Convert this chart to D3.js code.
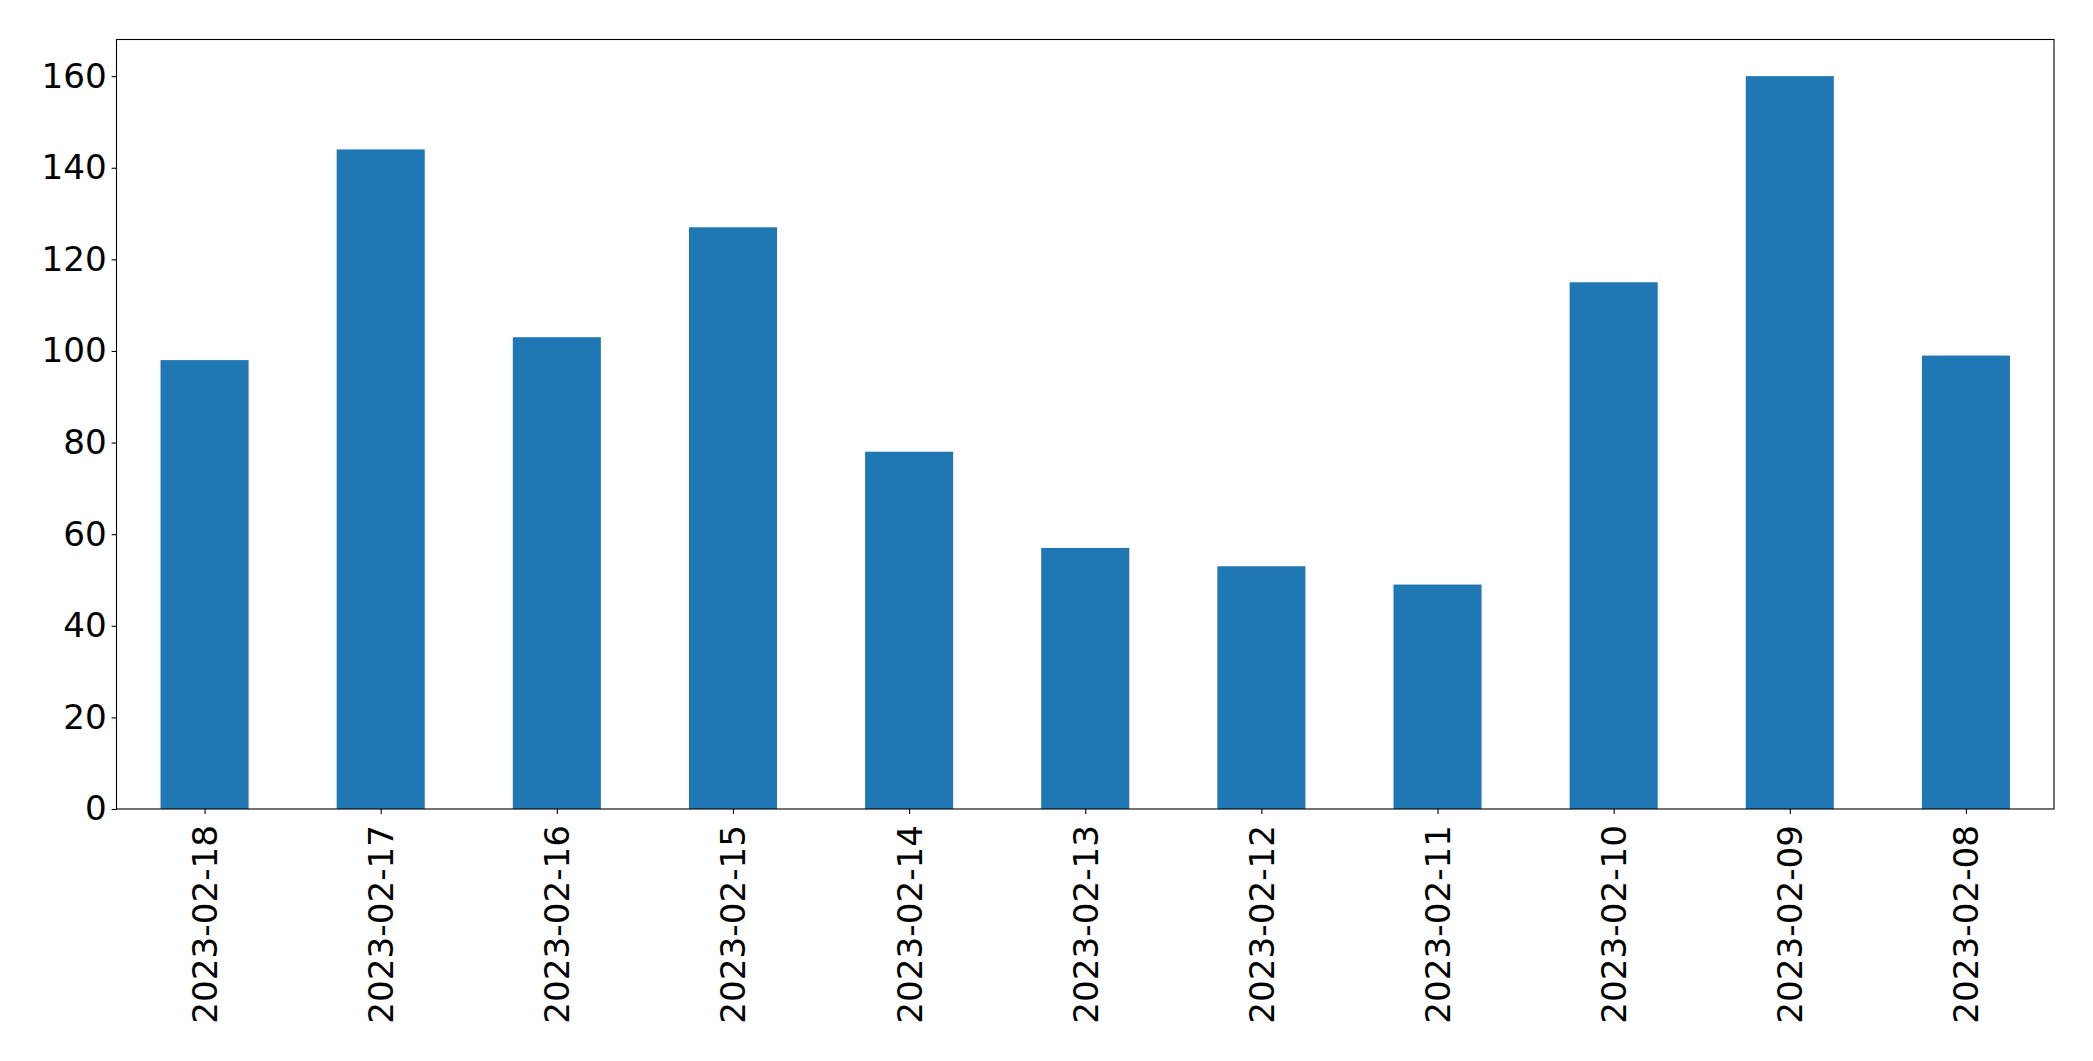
<!DOCTYPE html>
<html>
<head>
<meta charset="utf-8">
<script src="https://cdn.jsdelivr.net/npm/d3@7"></script>
<style>
  body { margin: 0; background: #fff; }
  text { font-family: "DejaVu Sans", sans-serif; fill: #000; }
</style>
</head>
<body>
<div id="chart"></div>
<script>
// Data
var dates = ["2023-02-18", "2023-02-17", "2023-02-16", "2023-02-15", "2023-02-14",
             "2023-02-13", "2023-02-12", "2023-02-11", "2023-02-10", "2023-02-09", "2023-02-08"];
var counts = [98, 144, 103, 127, 78, 57, 53, 49, 115, 160, 99];
var yTicks = [0, 20, 40, 60, 80, 100, 120, 140, 160];

var width = 2093, height = 1061;
var margin = { top: 39.5, right: 39, bottom: 252, left: 116.5 };
var plotW = width - margin.left - margin.right;
var plotH = height - margin.top - margin.bottom;
var fontSize = 34.2;

var svg = d3.select("#chart")
    .append("svg")
    .attr("width", width)
    .attr("height", height);

var g = svg.append("g")
    .attr("transform", "translate(" + margin.left + "," + margin.top + ")");

// Linear x over category index, like matplotlib's (-0.5, n-0.5)
var x = d3.scaleLinear()
    .domain([-0.5, dates.length - 0.5])
    .range([0, plotW]);

var y = d3.scaleLinear()
    .domain([0, d3.max(counts) * 1.05])
    .range([plotH, 0]);

// Bars
g.selectAll(".bar")
    .data(counts)
    .enter()
    .append("rect")
    .attr("class", "bar")
    .attr("x", function(d, i) { return x(i - 0.25); })
    .attr("width", x(0.25) - x(-0.25))
    .attr("y", function(d) { return y(d); })
    .attr("height", function(d) { return plotH - y(d); })
    .style("fill", "#1f77b4");

// Y axis
var yAxis = g.append("g")
    .call(d3.axisLeft(y).tickValues(yTicks).tickSize(4.9).tickPadding(4.9));
yAxis.select(".domain").remove();
yAxis.selectAll("line").style("stroke", "#000").style("stroke-width", 1.1);
yAxis.selectAll("text")
    .style("font-size", fontSize + "px")
    .style("font-family", "DejaVu Sans");

// X axis
var xAxis = g.append("g")
    .attr("transform", "translate(0," + plotH + ")")
    .call(d3.axisBottom(x)
        .tickValues(d3.range(dates.length))
        .tickFormat(function(i) { return dates[i]; })
        .tickSize(4.9));
xAxis.select(".domain").remove();
xAxis.selectAll("line").style("stroke", "#000").style("stroke-width", 1.1);
xAxis.selectAll("text")
    .style("font-size", fontSize + "px")
    .style("font-family", "DejaVu Sans")
    .attr("text-anchor", "end")
    .attr("dy", "0.35em")
    .attr("x", 0)
    .attr("y", 0)
    .attr("transform", "translate(0,16) rotate(-90)");

// Frame
g.append("rect")
    .attr("width", plotW)
    .attr("height", plotH)
    .style("fill", "none")
    .style("stroke", "#000")
    .style("stroke-width", 1.1);
</script>
</body>
</html>
